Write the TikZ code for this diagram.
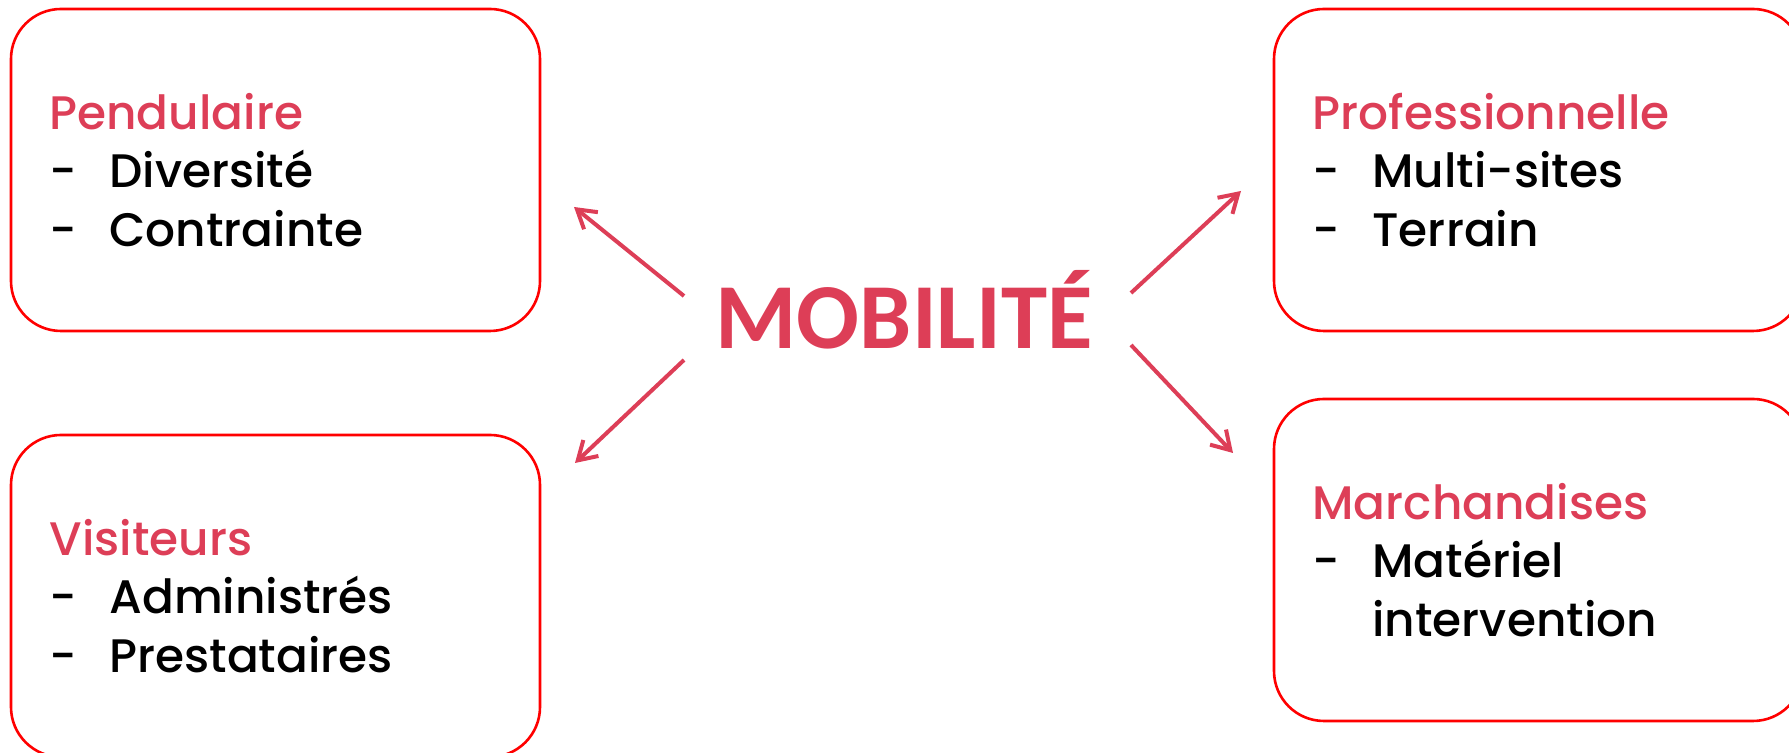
\documentclass[tikz,border=0pt]{standalone}
\usepackage{fontspec}
\setmainfont{Poppins Medium}
\newfontfamily\titlefont{Carlito}
\usetikzlibrary{arrows.meta}
\definecolor{mobred}{RGB}{221,62,87}
\definecolor{boxred}{RGB}{255,0,0}
\newcommand{\itm}[1]{\makebox[30pt][l]{-}#1}
\tikzset{
  casebox/.style={draw=boxred, line width=1.3pt, rounded corners=25pt, minimum width=264.5pt, minimum height=161pt,
    text width=226pt, inner xsep=19pt, align=left, font=\fontsize{23.5}{29.25}\selectfont},
  fleche/.style={->, draw=mobred, line width=2pt},
}
\begin{document}
\begin{tikzpicture}[x=0.5pt, y=0.5pt, >={Straight Barb[length=9pt,width=11pt]}]
  \useasboundingbox (0,0) rectangle (1789,753);
  \node[font=\titlefont\bfseries\fontsize{46.5}{50}\selectfont, text=mobred, anchor=base, inner sep=0] (mob) at (904,404) {MOBILITÉ};
  \node[casebox] (pend) at (275.5,583) {{\color{mobred}Pendulaire}\\ \itm{Diversité}\\ \itm{Contrainte}};
  \node[casebox] (visit) at (275.5,157) {{\color{mobred}Visiteurs}\\ \itm{Administrés}\\ \itm{Prestataires}};
  \node[casebox] (pro) at (1538.5,583) {{\color{mobred}Professionnelle}\\ \itm{Multi-sites}\\ \itm{Terrain}};
  \node[casebox] (march) at (1538.5,193) {{\color{mobred}Marchandises}\\ \itm{Matériel}\\ \hspace*{30pt}intervention};
  % arrow ends around the title
  \path (684,457) coordinate (pend-s) (574,546) coordinate (pend-t)
        (684,393) coordinate (visit-s) (575,290) coordinate (visit-t)
        (1131,460) coordinate (pro-s) (1241,562) coordinate (pro-t)
        (1131,408) coordinate (march-s) (1233,300) coordinate (march-t);
  \foreach \n in {pend, visit, pro, march}{
    \draw[fleche] (\n-s) -- (\n-t);
  }
\end{tikzpicture}
\end{document}
